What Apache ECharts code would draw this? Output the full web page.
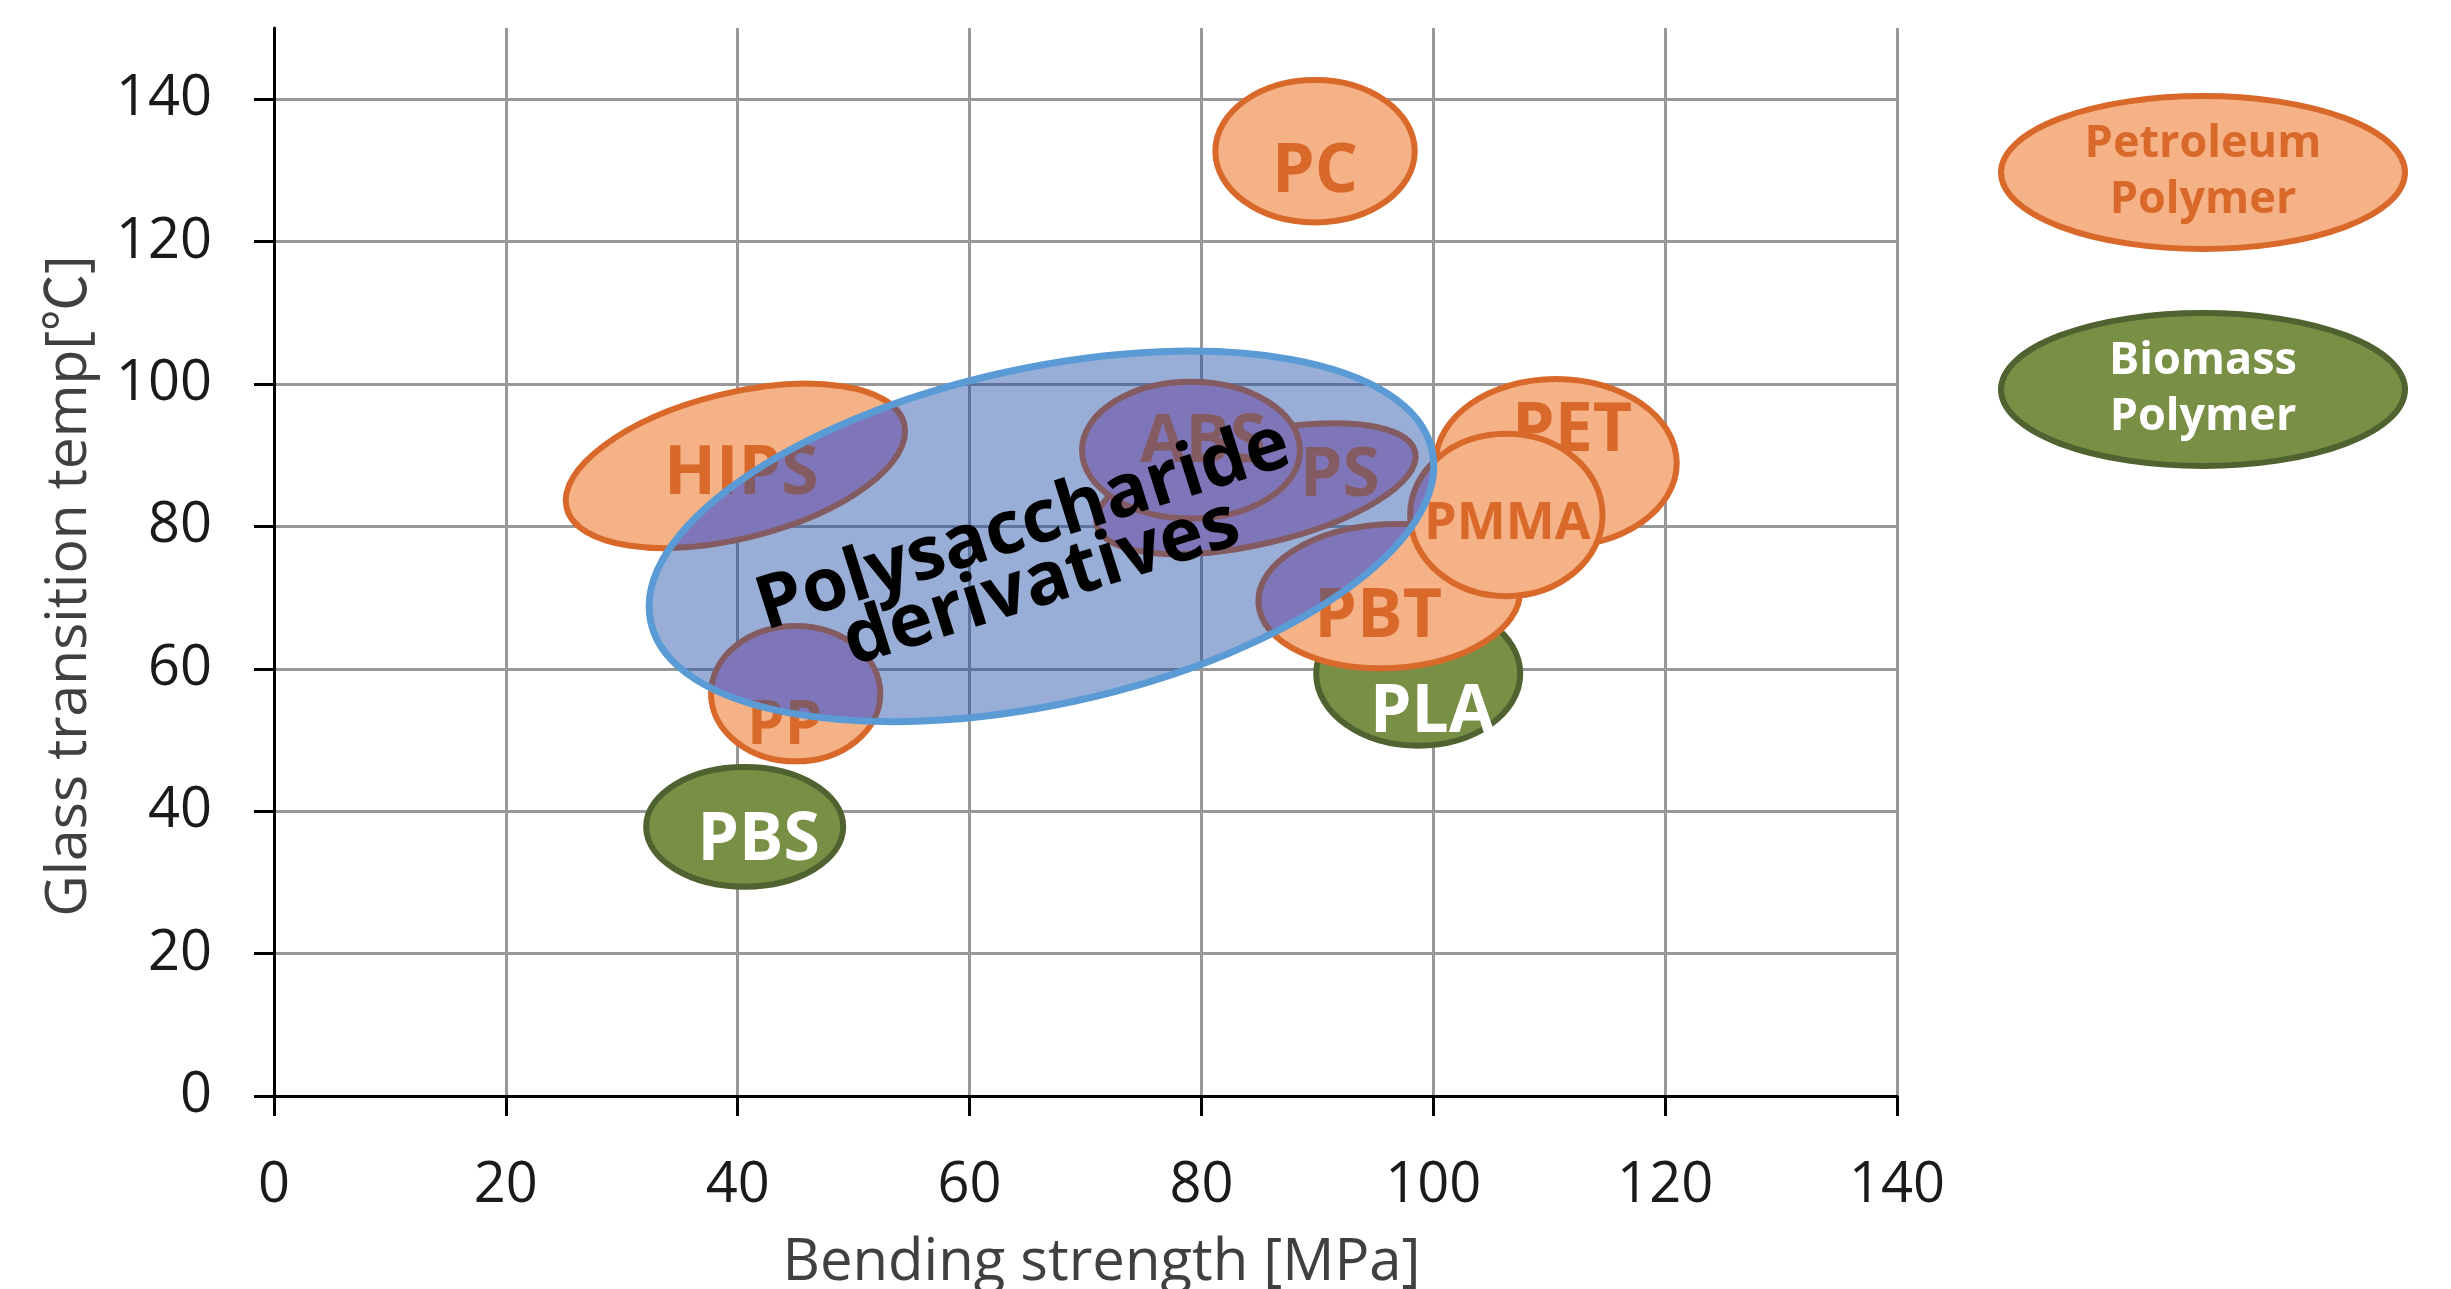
<!DOCTYPE html>
<html>
<head>
<meta charset="utf-8">
<script src="https://cdn.jsdelivr.net/npm/echarts@6/dist/echarts.min.js"></script>
<style>
html,body{margin:0;padding:0;background:#ffffff;}
#chart{width:2451px;height:1289px;}
</style>
</head>
<body>
<div id="chart"></div>
<script>
// ---------- tick labels ----------
const xTicks = [0, 20, 40, 60, 80, 100, 120, 140];
const yTicks = [0, 20, 40, 60, 80, 100, 120, 140];

// ---------- Petroleum polymers (drawing order) ----------
const petroleumNames = ['PC', 'HIPS', 'PS', 'ABS', 'PET', 'PBT', 'PMMA', 'PP'];
const petroleumStrength = [89.8, 39.8, 84.7, 79.1, 110.6, 96.2, 106.3, 45.0];      // centre, MPa
const petroleumTg = [132.7, 88.5, 85.3, 90.7, 88.9, 70.2, 81.6, 56.5];             // centre, degC
const petroleumStrengthSpread = [8.6, 15.0, 14.1, 9.4, 10.4, 11.3, 8.3, 7.3];      // half-range, MPa
const petroleumTgSpread = [10.0, 10.2, 7.8, 9.6, 11.8, 10.1, 11.4, 9.5];           // half-range, degC
const petroleumTilt = [0, 14, 13, 0, 0, 3, 0, 0];                                   // degrees

// ---------- Biomass polymers ----------
const biomassNames = ['PLA', 'PBS'];
const biomassStrength = [98.7, 40.6];
const biomassTg = [59.3, 37.8];
const biomassStrengthSpread = [8.8, 8.5];
const biomassTgSpread = [10.1, 8.4];
const biomassTilt = [0, 0];

// ---------- Polysaccharide derivatives ----------
const polyNames = ['Polysaccharide\nderivatives'];
const polyStrength = [66.2];
const polyTg = [78.6];
const polyStrengthSpread = [34.5];
const polyTgSpread = [23.6];
const polyTilt = [12.4];

// ---------- label styling (pixel offsets from ellipse centre) ----------
const FONT = '"Open Sans", "Noto Sans CJK JP", sans-serif';
const labelStyle = {
  'PC':   {dx: 0,   dy: 21,  size: 68},
  'HIPS': {dx: 6,   dy: 9,   size: 68},
  'PS':   {dx: 84,  dy: -12, size: 68},
  'ABS':  {dx: 12,  dy: -7,  size: 66},
  'PET':  {dx: 16,  dy: -31, size: 68},
  'PBT':  {dx: -11, dy: 21,  size: 68},
  'PMMA': {dx: 1,   dy: 9,   size: 52},
  'PP':   {dx: -11, dy: 33,  size: 60},
  'PLA':  {dx: 14,  dy: 39,  size: 66},
  'PBS':  {dx: 14,  dy: 14,  size: 66},
  'Polysaccharide\nderivatives': {dx: -9, dy: 19, size: 74, lineHeight: 60, rotate: 17.5}
};

const ORANGE_FILL = '#F4B286';
const ORANGE_LINE = '#D9692A';
const OVERLAP_FILL = '#D299CC';   // petroleum area seen through the blue shape
const GREEN_FILL = '#788F45';
const GREEN_LINE = '#4F6230';
const BLUE_FILL = 'rgba(26,75,164,0.45)';
const BLUE_LINE = '#5B9BD5';

function toData(names, xs, ys, sx, sy, tilt) {
  return names.map(function (n, i) {
    return {name: n, value: [xs[i], ys[i], sx[i], sy[i], tilt[i]]};
  });
}

function geometryOf(api, x, y, sx, sy, tilt) {
  return {
    c: api.coord([x, y]),
    a: api.size([sx, 0])[0],
    b: api.size([0, sy])[1],
    rot: tilt * Math.PI / 180
  };
}
function geometry(api) {
  return geometryOf(api, api.value(0), api.value(1), api.value(2), api.value(3), api.value(4));
}

function ellipsePoints(g, n) {
  const pts = [];
  const cr = Math.cos(g.rot), sr = Math.sin(g.rot);
  for (let k = 0; k < n; k++) {
    const t = 2 * Math.PI * k / n;
    const lx = g.a * Math.cos(t), ly = g.b * Math.sin(t);
    pts.push([g.c[0] + lx * cr + ly * sr, g.c[1] - lx * sr + ly * cr]);
  }
  return pts;
}
function segIntersect(p1, p2, p3, p4) {
  const den = (p1[0] - p2[0]) * (p3[1] - p4[1]) - (p1[1] - p2[1]) * (p3[0] - p4[0]);
  const t = ((p1[0] - p3[0]) * (p3[1] - p4[1]) - (p1[1] - p3[1]) * (p3[0] - p4[0])) / den;
  return [p1[0] + t * (p2[0] - p1[0]), p1[1] + t * (p2[1] - p1[1])];
}
function clipConvex(subject, clip, center) {
  let output = subject;
  for (let i = 0; i < clip.length && output.length; i++) {
    const e0 = clip[i], e1 = clip[(i + 1) % clip.length];
    const ex = e1[0] - e0[0], ey = e1[1] - e0[1];
    const sgn = Math.sign(ex * (center[1] - e0[1]) - ey * (center[0] - e0[0]));
    const inside = function (p) { return sgn * (ex * (p[1] - e0[1]) - ey * (p[0] - e0[0])) >= 0; };
    const input = output;
    output = [];
    for (let j = 0; j < input.length; j++) {
      const cur = input[j], prev = input[(j + input.length - 1) % input.length];
      const ci = inside(cur), pi = inside(prev);
      if (ci) {
        if (!pi) output.push(segIntersect(prev, cur, e0, e1));
        output.push(cur);
      } else if (pi) {
        output.push(segIntersect(prev, cur, e0, e1));
      }
    }
  }
  return output;
}

function labelEl(name, g, color) {
  const ls = labelStyle[name];
  return {
    type: 'text',
    x: g.c[0] + ls.dx, y: g.c[1] + ls.dy,
    rotation: (ls.rotate || 0) * Math.PI / 180,
    style: {
      text: name, fill: color, fontFamily: FONT, fontWeight: 'bold',
      fontSize: ls.size, lineHeight: ls.lineHeight || ls.size,
      align: 'center', verticalAlign: 'middle'
    }
  };
}

function makeRender(names, fill, stroke, lineWidth, textColor, overlapFill) {
  return function (params, api) {
    const name = names[params.dataIndex];
    const g = geometry(api);
    const base = {type: 'ellipse', x: g.c[0], y: g.c[1], rotation: g.rot,
                  shape: {cx: 0, cy: 0, rx: g.a, ry: g.b}};
    const children = [Object.assign({}, base, {style: {fill: fill, stroke: null}})];
    if (overlapFill) {
      const blue = geometryOf(api, polyStrength[0], polyTg[0], polyStrengthSpread[0], polyTgSpread[0], polyTilt[0]);
      const part = clipConvex(ellipsePoints(g, 180), ellipsePoints(blue, 240), blue.c);
      if (part.length > 2) {
        children.push({type: 'polygon', shape: {points: part}, style: {fill: overlapFill, stroke: null}});
      }
    }
    children.push(Object.assign({}, base, {style: {fill: null, stroke: stroke, lineWidth: lineWidth}}));
    children.push(labelEl(name, g, textColor));
    return {type: 'group', children: children};
  };
}

function makeTranslucentRender(names) {
  return function (params, api) {
    const name = names[params.dataIndex];
    const g = geometry(api);
    return {
      type: 'group',
      children: [
        {type: 'ellipse', x: g.c[0], y: g.c[1], rotation: g.rot,
         shape: {cx: 0, cy: 0, rx: g.a, ry: g.b},
         style: {fill: BLUE_FILL, stroke: BLUE_LINE, lineWidth: 7}},
        labelEl(name, g, '#000000')
      ]
    };
  };
}

const chart = echarts.init(document.getElementById('chart'), null, {renderer: 'canvas'});

const option = {
  backgroundColor: '#ffffff',
  animation: false,
  grid: {left: 274, top: 28, width: 1623, height: 1068, containLabel: false, outerBoundsMode: 'none'},
  legend: {
    orient: 'vertical',
    left: 1998, top: 93, padding: 0,
    itemWidth: 404, itemHeight: 153, itemGap: 58,
    selectedMode: false,
    icon: 'path://M0,76.5 A202,76.5 0 1,1 404,76.5 A202,76.5 0 1,1 0,76.5 Z',
    formatter: function (name) { return '{t|' + name.replace(' ', '}\n{t|') + '}'; },
    textStyle: {
      fontFamily: FONT, fontWeight: 'bold', fontSize: 45, lineHeight: 56,
      width: 404, padding: [0, 0, 0, -409],
      rich: {t: {align: 'center', fontFamily: FONT, fontWeight: 'bold', fontSize: 45, lineHeight: 56}}
    },
    data: [
      {name: 'Petroleum Polymer',
       itemStyle: {color: ORANGE_FILL, borderColor: ORANGE_LINE, borderWidth: 6},
       textStyle: {color: ORANGE_LINE}},
      {name: 'Biomass Polymer',
       itemStyle: {color: GREEN_FILL, borderColor: GREEN_LINE, borderWidth: 6},
       textStyle: {color: '#ffffff'}}
    ]
  },
  xAxis: {
    type: 'value', min: 0, max: 140, interval: 20,
    name: 'Bending strength [MPa]', nameLocation: 'middle', nameGap: 138,
    nameTextStyle: {fontFamily: FONT, fontSize: 58, color: '#404040', padding: [0, 0, 0, 32]},
    axisLine: {show: true, onZero: false, lineStyle: {color: '#000000', width: 3}},
    axisTick: {show: true, length: 20, lineStyle: {color: '#000000', width: 3}},
    axisLabel: {margin: 62, fontFamily: FONT, fontSize: 56, color: '#1a1a1a', customValues: xTicks},
    splitLine: {show: true, lineStyle: {color: '#989898', width: 3}}
  },
  yAxis: {
    type: 'value', min: 0, max: 150, interval: 20,
    name: 'Glass transition temp[℃]', nameLocation: 'middle', nameGap: 176,
    nameTextStyle: {fontFamily: FONT, fontSize: 57, color: '#404040', padding: [0, 48, 0, 0]},
    axisLine: {show: true, onZero: false, lineStyle: {color: '#000000', width: 3}},
    axisTick: {show: true, length: 20, lineStyle: {color: '#000000', width: 3}, customValues: yTicks},
    axisLabel: {margin: 62, fontFamily: FONT, fontSize: 56, color: '#1a1a1a', customValues: yTicks},
    splitLine: {show: true, lineStyle: {color: '#989898', width: 3}}
  },
  series: [
    {
      name: 'Biomass Polymer', type: 'custom', coordinateSystem: 'cartesian2d',
      itemStyle: {color: GREEN_FILL},
      renderItem: makeRender(biomassNames, GREEN_FILL, GREEN_LINE, 6, '#ffffff', null),
      data: toData(biomassNames, biomassStrength, biomassTg, biomassStrengthSpread, biomassTgSpread, biomassTilt)
    },
    {
      name: 'Petroleum Polymer', type: 'custom', coordinateSystem: 'cartesian2d',
      itemStyle: {color: ORANGE_FILL},
      renderItem: makeRender(petroleumNames, ORANGE_FILL, ORANGE_LINE, 6, ORANGE_LINE, OVERLAP_FILL),
      data: toData(petroleumNames, petroleumStrength, petroleumTg, petroleumStrengthSpread, petroleumTgSpread, petroleumTilt)
    },
    {
      name: 'Polysaccharide derivatives', type: 'custom', coordinateSystem: 'cartesian2d',
      itemStyle: {color: '#98AED6'},
      renderItem: makeTranslucentRender(polyNames),
      data: toData(polyNames, polyStrength, polyTg, polyStrengthSpread, polyTgSpread, polyTilt)
    }
  ]
};
chart.setOption(option);
</script>
</body>
</html>
